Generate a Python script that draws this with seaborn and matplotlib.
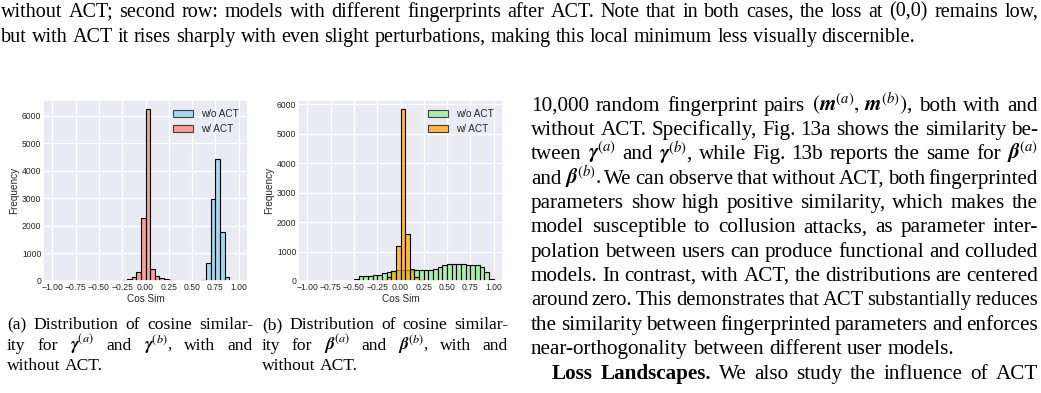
import numpy as np
import pandas as pd
import matplotlib
matplotlib.use("Agg")
import matplotlib.pyplot as plt
import seaborn as sns
from matplotlib.patches import Patch
from matplotlib.transforms import IdentityTransform
from matplotlib.mathtext import MathTextParser

# ---------------- data ----------------
# 40 histogram bins of width 0.05 from -1.00 to 1.00
bin_edges = np.round(np.linspace(-1.0, 1.0, 41), 4)
bin_centers = (bin_edges[:-1] + bin_edges[1:]) / 2

# (a) gamma cosine similarity, counts per bin (left to right)
gamma_without_act = [0, 0, 0, 0, 0, 0, 0, 0, 0, 0,
                     0, 0, 0, 0, 0, 0, 0, 0, 0, 0,
                     0, 0, 0, 0, 0, 0, 0, 0, 0, 0,
                     0, 0, 30, 640, 2990, 4430, 1770, 150, 10, 0]
gamma_with_act = [0, 0, 0, 0, 0, 0, 0, 0, 0, 0,
                  0, 0, 0, 10, 15, 30, 70, 140, 320, 2300,
                  6250, 440, 190, 100, 60, 30, 15, 5, 0, 0,
                  0, 0, 0, 0, 0, 0, 0, 0, 0, 0]
# (b) beta cosine similarity
beta_without_act = [0, 0, 0, 0, 0, 0, 0, 0, 0, 10,
                    80, 170, 170, 170, 200, 220, 280, 310, 350, 360,
                    370, 370, 375, 380, 375, 375, 375, 410, 470, 530,
                    560, 585, 590, 580, 540, 540, 530, 470, 300, 80]
beta_with_act = [0, 0, 0, 0, 0, 0, 0, 0, 0, 0,
                 0, 0, 0, 0, 0, 15, 50, 150, 330, 1200,
                 5850, 1600, 400, 150, 50, 15, 5, 0, 0, 0,
                 0, 0, 0, 0, 0, 0, 0, 0, 0, 0]

legend_labels = ["w/o ACT", "w/ ACT"]
x_ticks = [-1.0, -0.75, -0.5, -0.25, 0.0, 0.25, 0.5, 0.75, 1.0]
y_ticks = [0, 1000, 2000, 3000, 4000, 5000, 6000]

colors_a = ["skyblue", "salmon"]
colors_b = ["lightgreen", "orange"]

# ---------------- page text ----------------
top_line1 = ("without ACT; second row: models with different fingerprints after ACT. "
             "Note that in both cases, the loss at (0,0) remains low,")
top_line2 = ("but with ACT it rises sharply with even slight perturbations, "
             "making this local minimum less visually discernible.")

# ---------------- style ----------------
sns.set_theme(style="darkgrid")
plt.rcParams["font.family"] = ["Liberation Sans", "DejaVu Sans"]
plt.rcParams["mathtext.fontset"] = "stix"

try:
    MathTextParser("path").parse(r"$\boldsymbol{\gamma}^{(a)}$")
    BS = r"\boldsymbol"
except Exception:
    BS = r"\mathbf"


def bm(sym):
    return BS + "{" + sym + "}"


body_lines = [
    ("10,000 random fingerprint pairs $(" + bm("m") + "^{(a)}," + r"\," + bm("m") + "^{(b)})$, both with and", True),
    ("without ACT. Specifically, Fig. 13a shows the similarity be-", True),
    ("tween $" + bm(r"\gamma") + "^{(a)}$ and $" + bm(r"\gamma") + "^{(b)}$, while Fig. 13b reports the same for $"
     + bm(r"\beta") + "^{(a)}$", True),
    ("and $" + bm(r"\beta") + "^{(b)}$. We can observe that without ACT, both fingerprinted", True),
    ("parameters show high positive similarity, which makes the", True),
    ("model susceptible to collusion attacks, as parameter inter-", True),
    ("polation between users can produce functional and colluded", True),
    ("models. In contrast, with ACT, the distributions are centered", True),
    ("around zero. This demonstrates that ACT substantially reduces", True),
    ("the similarity between fingerprinted parameters and enforces", True),
    ("near-orthogonality between different user models.", False),
]
loss_bold = "Loss Landscapes."
loss_rest = "We also study the influence of ACT"

sub_a = [("(a) Distribution of cosine similar-", True),
         ("ity for $" + bm(r"\gamma") + "^{(a)}$ and $" + bm(r"\gamma") + "^{(b)}$, with and", True),
         ("without ACT.", False)]
sub_b = [("(b) Distribution of cosine similar-", True),
         ("ity for $" + bm(r"\beta") + "^{(a)}$ and $" + bm(r"\beta") + "^{(b)}$, with and", True),
         ("without ACT.", False)]

# ---------------- figure ----------------
W, H = 1041, 393
fig = plt.figure(figsize=(W / 100, H / 100), dpi=100)
fig.patch.set_facecolor("white")


def px_axes(left, top, right, bottom):
    return fig.add_axes([left / W, 1 - bottom / H, (right - left) / W, (bottom - top) / H])


def draw_hist(ax, series, colors):
    for vals, col in zip(series, colors):
        df = pd.DataFrame({"cos": bin_centers, "count": vals})
        sns.histplot(data=df, x="cos", weights="count", binwidth=0.05, binrange=(-1.0, 1.0),
                     ax=ax, color=col, alpha=0.7, edgecolor="black", linewidth=0.8)
    ax.set_xticks(x_ticks)
    ax.set_yticks(y_ticks)
    ax.tick_params(labelsize=6.2, pad=1.2, length=0, colors=".15")
    ax.set_xlabel("Cos Sim", fontsize=7.2, labelpad=1.5, color=".15")
    ax.set_ylabel("Frequency", fontsize=7.2, labelpad=2, color=".15")
    ax.grid(True, color="white", linewidth=0.9)
    handles = [Patch(facecolor=c, edgecolor="black", alpha=0.7, linewidth=0.8, label=l)
               for c, l in zip(colors, legend_labels)]
    ax.legend(handles=handles, loc="upper right", fontsize=7.2, frameon=False)


ax_a = px_axes(43, 100, 248, 281)
draw_hist(ax_a, [gamma_without_act, gamma_with_act], colors_a)
ax_b = px_axes(298, 100, 503, 281)
draw_hist(ax_b, [beta_without_act, beta_with_act], colors_b)

rend = fig.canvas.get_renderer()
SERIF = ["Liberation Serif", "DejaVu Serif"]


def place_line(tokens, x0, x1, yc, size, justify=True, min_gap_em=0.18):
    """tokens: list of (word, weight). yc = visual centre (px from top)."""
    while True:
        em = size * 100 / 72
        objs = [fig.text(0, 0, w, transform=IdentityTransform(), fontsize=size,
                         family=SERIF, weight=wt, va="baseline", ha="left", color="black")
                for w, wt in tokens]
        widths = [o.get_window_extent(renderer=rend).width for o in objs]
        n = len(objs)
        if justify and n > 1:
            gap = (x1 - x0 - sum(widths)) / (n - 1)
        else:
            gap = 0.25 * em
        if justify and gap < min_gap_em * em and size > 6:
            for o in objs:
                o.remove()
            size *= 0.99
            continue
        break
    yb = H - (yc + 0.23 * em)
    x = x0
    for o, w in zip(objs, widths):
        o.set_position((x, yb))
        x += w + gap
    return size


def toks(s, wt="normal"):
    return [(w, wt) for w in s.split(" ")]


# top caption lines
s_top = place_line(toks(top_line1), 1, 1038, 12, 14.5)
place_line(toks(top_line2), 1, 1038, 37, s_top, justify=False)

# right column body
BODY = 15.2
y0, dy = 106, 24.3
for i, (line, just) in enumerate(body_lines):
    place_line(toks(line), 531, 1038, y0 + i * dy, BODY, justify=just, min_gap_em=0.14)
place_line(toks(loss_bold, "bold") + toks(loss_rest), 552, 1038, 374, BODY, justify=True, min_gap_em=0.14)

# sub-captions
SUB = 12.6
for i, (line, just) in enumerate(sub_a):
    place_line(toks(line), 7, 253, 325 + i * 20.5, SUB, justify=just, min_gap_em=0.14)
for i, (line, just) in enumerate(sub_b):
    place_line(toks(line), 262, 508, 325 + i * 20.5, SUB, justify=just, min_gap_em=0.14)

fig.savefig("out.png", dpi=100, facecolor="white")
